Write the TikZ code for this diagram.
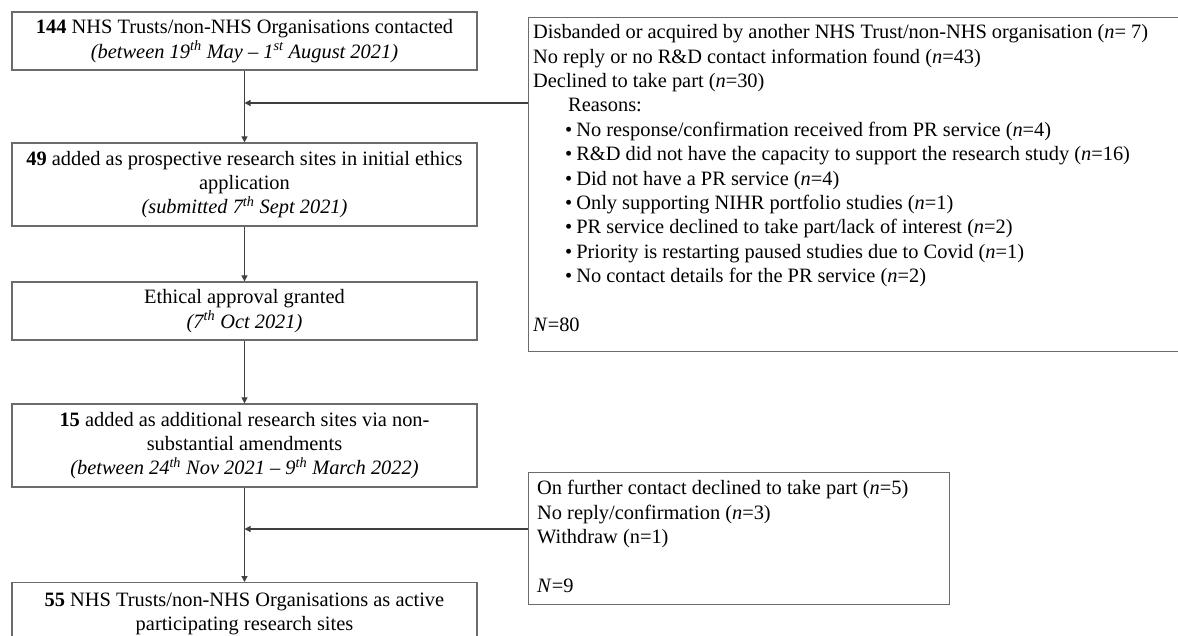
\documentclass[tikz,border=0pt]{standalone}
\usepackage{fontspec}
\setmainfont{Liberation Serif}
\usetikzlibrary{arrows.meta,calc}

\begin{document}
\begin{tikzpicture}[x=1pt,y=-1pt,
  every node/.style={font=\fontsize{20.4}{24.4}\selectfont},
  flowbox/.style={draw=black!58, line width=1.3pt, minimum width=465pt, align=center, inner sep=0pt},
  sidebox/.style={draw=black!58, line width=1.3pt, inner sep=0pt, anchor=north west},
  listtext/.style={anchor=north west, align=left, inner sep=0pt},
  flowarrow/.style={draw=black!75, line width=1.2pt, -{Triangle[length=6pt,width=6pt]}},
]
\useasboundingbox (0,0) rectangle (1178,635);
\fill[white] (0,0) rectangle (1178,635);
\clip (0,0) rectangle (1178,635);

% main flow
\node[flowbox, minimum height=58pt] (contacted) at (244.5,41)
  {\textbf{144} NHS Trusts/non-NHS Organisations contacted\\
   \textit{(between 19\textsuperscript{th} May -- 1\textsuperscript{st} August 2021)}};
\node[flowbox, minimum height=83pt] (initial) at (244.5,184.5)
  {\textbf{49} added as prospective research sites in initial ethics\\
   application\\
   \textit{(submitted 7\textsuperscript{th} Sept 2021)}};
\node[flowbox, minimum height=58pt] (approval) at (244.5,311)
  {Ethical approval granted\\
   \textit{(7\textsuperscript{th} Oct 2021)}};
\node[flowbox, minimum height=83pt] (additional) at (244.5,445.5)
  {\textbf{15} added as additional research sites via non-\\
   substantial amendments\\
   \textit{(between 24\textsuperscript{th} Nov 2021 -- 9\textsuperscript{th} March 2022)}};
\node[flowbox, minimum height=83pt, anchor=north] (active) at (244.5,582)
  {\textbf{55} NHS Trusts/non-NHS Organisations as active\\
   participating research sites\\
   \mbox{}};

% exclusion boxes
\node[sidebox, minimum width=670pt, minimum height=334pt] (excluded) at (528,17) {};
\node[listtext] (excludedtext) at ($(excluded.north west)+(5,5.5)$)
  {\rule{0pt}{16pt}Disbanded or acquired by another NHS Trust/non-NHS organisation (\textit{n}= 7)\\
   No reply or no R\&D contact information found (\textit{n}=43)\\
   Declined to take part (\textit{n}=30)\\
   \hspace*{35pt}Reasons:\\
   \hspace*{32pt}\textbullet\hspace{4pt}No response/confirmation received from PR service (\textit{n}=4)\\
   \hspace*{32pt}\textbullet\hspace{4pt}R\&D did not have the capacity to support the research study (\textit{n}=16)\\
   \hspace*{32pt}\textbullet\hspace{4pt}Did not have a PR service (\textit{n}=4)\\
   \hspace*{32pt}\textbullet\hspace{4pt}Only supporting NIHR portfolio studies (\textit{n}=1)\\
   \hspace*{32pt}\textbullet\hspace{4pt}PR service declined to take part/lack of interest (\textit{n}=2)\\
   \hspace*{32pt}\textbullet\hspace{4pt}Priority is restarting paused studies due to Covid (\textit{n}=1)\\
   \hspace*{32pt}\textbullet\hspace{4pt}No contact details for the PR service (\textit{n}=2)\\
   \mbox{}\\
   \textit{N}=80};

\node[sidebox, minimum width=421pt, minimum height=132pt] (withdrawn) at (528,472) {};
\node[listtext] (withdrawntext) at ($(withdrawn.north west)+(9,6.5)$)
  {\rule{0pt}{16pt}On further contact declined to take part (\textit{n}=5)\\
   No reply/confirmation (\textit{n}=3)\\
   Withdraw (n=1)\\
   \mbox{}\\
   \textit{N}=9};

% connectors
\draw[flowarrow] (contacted.south) -- (initial.north);
\draw[flowarrow] (initial.south) -- (approval.north);
\draw[flowarrow] (approval.south) -- (additional.north);
\draw[flowarrow] (additional.south) -- (active.north);

\coordinate (join1) at (244.5,103);
\draw[flowarrow] (join1 -| excluded.west) -- (join1);
\coordinate (join2) at (244.5,529);
\draw[flowarrow] (join2 -| withdrawn.west) -- (join2);
\end{tikzpicture}
\end{document}
